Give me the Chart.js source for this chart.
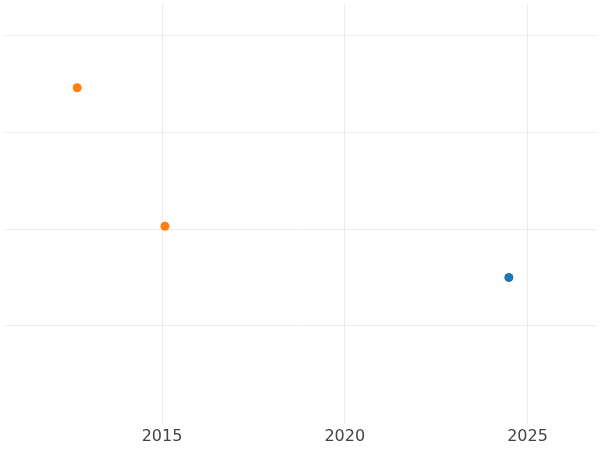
<!DOCTYPE html>
<html>
<head>
<meta charset="utf-8">
<script src="https://cdn.jsdelivr.net/npm/chart.js@4"></script>
<style>
  html, body { margin: 0; padding: 0; background: #fff; }
  #wrap { width: 600px; height: 450px; }
</style>
</head>
<body>
<div id="wrap"><canvas id="myChart"></canvas></div>
<script>
// Values
const blueYears = [2024.49];
const blueValues = [1.50];
const orangeYears = [2012.68, 2015.08];
const orangeValues = [3.46, 2.03];
const xTicks = [2015, 2020, 2025];
const yTicks = [1, 2, 3, 4];

const toPoints = (xs, ys) => xs.map((x, i) => ({ x: x, y: ys[i] }));

const ctx = document.getElementById('myChart').getContext('2d');
new Chart(ctx, {
    type: 'scatter',
    data: {
        datasets: [
            { data: toPoints(blueYears, blueValues), backgroundColor: '#1f77b4', borderWidth: 0, pointRadius: 4.5 },
            { data: toPoints(orangeYears, orangeValues), backgroundColor: '#ff7f0e', borderWidth: 0, pointRadius: 4.5 }
        ]
    },
    options: {
        responsive: true,
        maintainAspectRatio: false,
        animation: false,
        layout: { padding: { left: -5, right: -5, top: -5, bottom: 0 } },
        plugins: { legend: { display: false }, tooltip: { enabled: false } },
        scales: {
            x: {
                type: 'linear',
                min: 2010.69,
                max: 2026.86,
                afterBuildTicks: axis => { axis.ticks = xTicks.map(v => ({ value: v })); },
                border: { display: false },
                grid: { color: '#ebebeb', drawTicks: false },
                ticks: { color: '#444', font: { family: 'DejaVu Sans', size: 16 }, padding: 4,
                         callback: v => String(v) }
            },
            y: {
                min: 0,
                max: 4.32,
                afterBuildTicks: axis => { axis.ticks = yTicks.map(v => ({ value: v })); },
                border: { display: false },
                grid: { color: '#ebebeb', drawTicks: false },
                ticks: { display: false }
            }
        }
    }
});
</script>
</body>
</html>
